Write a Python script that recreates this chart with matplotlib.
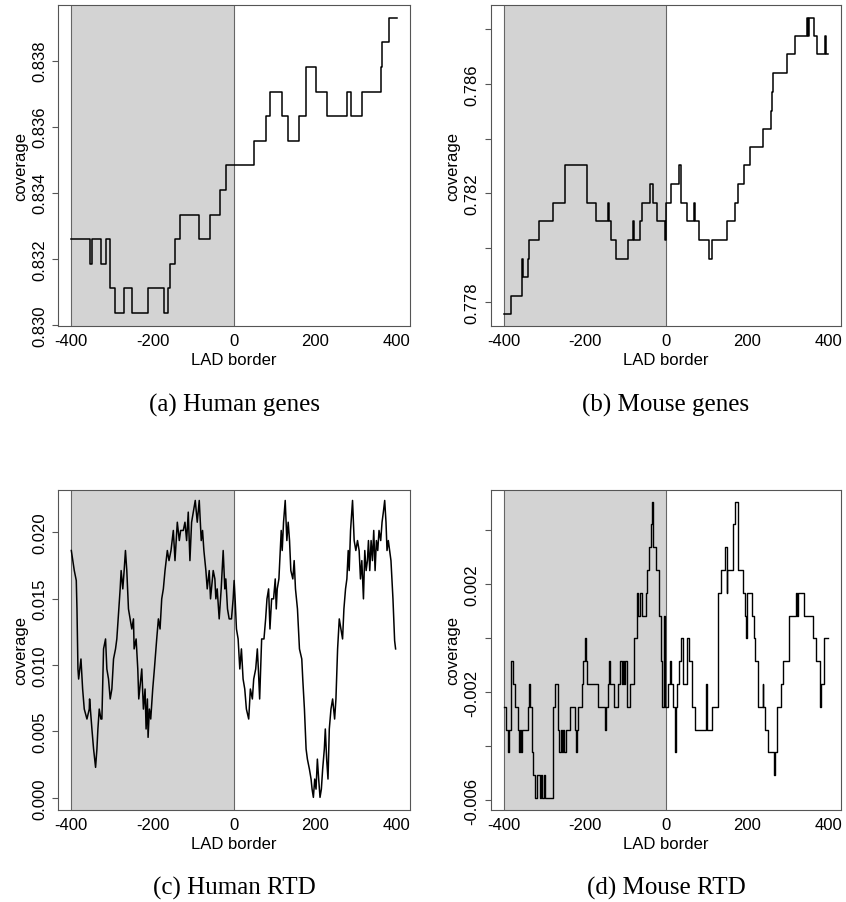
import matplotlib
matplotlib.use("Agg")
import matplotlib.pyplot as plt

plt.rcParams['font.family'] = ['Liberation Sans', 'DejaVu Sans']
plt.rcParams['axes.unicode_minus'] = False

# ---- data ----
x_ticks = [-400, -200, 0, 200, 400]
x_ticklabels = ['-400', '-200', '0', '200', '400']

# (a) Human genes: step function, x = start of each step
a_x = [-400, -355.1, -349.4, -327.3, -315.9, -306.1, -292.2, -270.2, -249.8, -210.6,
       -171.4, -163.3, -157.6, -145.3, -133.1, -85.7, -58.8, -35.1, -20.4, 48.2,
       79.2, 89.0, 117.6, 132.2, 159.2, 177.1, 200.0, 228.6, 278.4, 286.5,
       313.5, 360.8, 363.3, 379.6, 400]
a_y = [0.83260, 0.83185, 0.83260, 0.83185, 0.83260, 0.83111, 0.83036, 0.83111, 0.83036, 0.83111,
       0.83036, 0.83111, 0.83185, 0.83260, 0.83334, 0.83260, 0.83334, 0.83408, 0.83483, 0.83557,
       0.83631, 0.83706, 0.83631, 0.83557, 0.83631, 0.83780, 0.83706, 0.83631, 0.83706, 0.83631,
       0.83706, 0.83780, 0.83855, 0.83929, 0.83929]
a_yticks = [0.830, 0.832, 0.834, 0.836, 0.838]
a_yticklabels = ['0.830', '0.832', '0.834', '0.836', '0.838']
a_ylim = (0.82997, 0.83968)

# (b) Mouse genes
b_x = [-400, -382.8, -355.6, -353.2, -340.9, -336.8, -312.1, -277.6, -248.9, -193.8,
       -172.5, -142.1, -139.6, -135.5, -123.2, -94.4, -80.5, -78.0, -64.0, -59.9,
       -38.6, -32.8, -23.0, -3.3, -0.8, 11.5, 32.9, 36.2, 52.6, 69.0,
       71.5, 80.5, 106.0, 113.4, 149.5, 170.1, 178.3, 192.2, 207.0, 239.9,
       258.8, 262.1, 264.5, 299.0, 317.9, 346.7, 350.8, 353.2, 364.7, 371.3,
       391.8, 394.3, 400]
b_y = [0.77757, 0.77824, 0.77960, 0.77893, 0.77960, 0.78030, 0.78097, 0.78165, 0.78302, 0.78165,
       0.78097, 0.78165, 0.78097, 0.78030, 0.77960, 0.78030, 0.78097, 0.78030, 0.78097, 0.78165,
       0.78232, 0.78165, 0.78097, 0.78030, 0.78165, 0.78232, 0.78302, 0.78165, 0.78097, 0.78165,
       0.78097, 0.78030, 0.77960, 0.78030, 0.78097, 0.78165, 0.78232, 0.78302, 0.78369, 0.78434,
       0.78501, 0.78571, 0.78639, 0.78709, 0.78776, 0.78843, 0.78776, 0.78843, 0.78776, 0.78709,
       0.78776, 0.78709, 0.78709]
b_yticks = [0.778, 0.780, 0.782, 0.784, 0.786, 0.788]
b_yticklabels = ['0.778', '', '0.782', '', '0.786', '']
b_ylim = (0.77714, 0.78889)

# (c) Human RTD: polyline
c_x = [-400, -392.7, -387.8, -386.1, -383.7, -382.0, -376.3, -372.2, -368.2, -361.6,
       -355.9, -355.1, -349.4, -345.3, -340.4, -337.1, -334.7, -331.4, -327.3, -324.9,
       -320.8, -315.9, -312.7, -308.6, -304.5, -300.4, -296.3, -291.4, -288.2, -283.3,
       -280.0, -277.6, -273.5, -270.2, -267.0, -263.7, -259.6, -255.5, -251.4, -247.3,
       -245.7, -240.8, -236.7, -234.3, -226.9, -222.9, -218.8, -216.3, -213.1, -211.4,
       -208.2, -204.9, -200.0, -195.9, -190.2, -186.1, -182.0, -177.9, -173.9, -169.8,
       -164.1, -160.0, -155.1, -149.4, -145.3, -139.6, -134.7, -131.4, -124.9, -120.8,
       -116.7, -112.7, -108.6, -104.5, -100.4, -95.5, -90.6, -85.7, -80.8, -77.6,
       -74.3, -69.4, -66.1, -61.2, -58.0, -51.4, -47.3, -44.9, -41.6, -36.7,
       -31.8, -26.9, -22.9, -20.4, -16.3, -12.2, -6.5, -2.4, 0.0, 2.4,
       5.7, 9.8, 13.9, 17.9, 22.0, 26.1, 30.1, 35.8, 39.9, 44.8,
       48.1, 53.0, 57.0, 59.5, 62.7, 67.6, 73.3, 77.4, 80.7, 84.7,
       88.0, 92.1, 96.9, 101.0, 103.5, 105.9, 110.0, 113.2, 115.7, 118.1,
       121.4, 125.5, 129.5, 132.8, 136.1, 139.3, 144.2, 147.5, 150.7, 155.6,
       160.5, 166.2, 168.6, 172.7, 176.8, 180.0, 184.9, 189.0, 191.5, 194.7,
       198.0, 201.2, 204.5, 207.7, 211.0, 214.3, 217.5, 221.6, 224.0, 227.3,
       230.6, 233.8, 237.9, 242.0, 246.9, 250.1, 254.2, 258.3, 262.3, 266.4,
       269.7, 273.7, 277.0, 280.3, 282.7, 286.0, 290.9, 294.9, 299.0, 303.1,
       307.1, 310.4, 313.7, 317.7, 321.0, 324.3, 327.5, 330.0, 333.2, 336.5,
       339.8, 343.0, 346.3, 349.5, 352.8, 356.0, 360.1, 363.4, 366.6, 369.9,
       373.1, 375.6, 378.8, 382.1, 385.3, 390.2, 394.3, 396.7]
c_y = [0.01862, 0.01711, 0.01636, 0.01422, 0.00970, 0.00894, 0.01045, 0.00819, 0.00668, 0.00593,
       0.00668, 0.00744, 0.00518, 0.00367, 0.00229, 0.00367, 0.00518, 0.00668, 0.00593, 0.00593,
       0.01121, 0.01196, 0.00970, 0.00894, 0.00744, 0.00819, 0.01045, 0.01121, 0.01196, 0.01422,
       0.01573, 0.01711, 0.01573, 0.01711, 0.01862, 0.01711, 0.01422, 0.01347, 0.01271, 0.01347,
       0.01121, 0.01196, 0.00970, 0.00744, 0.00970, 0.00668, 0.00819, 0.00518, 0.00744, 0.00455,
       0.00668, 0.00593, 0.00819, 0.00970, 0.01196, 0.01347, 0.01271, 0.01498, 0.01573, 0.01711,
       0.01862, 0.01786, 0.01862, 0.02013, 0.01786, 0.02075, 0.01937, 0.02013, 0.02013, 0.02075,
       0.01937, 0.02151, 0.01786, 0.02075, 0.02151, 0.02239, 0.02075, 0.02239, 0.01937, 0.02013,
       0.01862, 0.01711, 0.01573, 0.01711, 0.01498, 0.01711, 0.01648, 0.01498, 0.01573, 0.01347,
       0.01573, 0.01862, 0.01573, 0.01648, 0.01422, 0.01347, 0.01347, 0.01498, 0.01636, 0.01498,
       0.01271, 0.01196, 0.00970, 0.01121, 0.00894, 0.00819, 0.00668, 0.00593, 0.00819, 0.00744,
       0.00894, 0.00970, 0.01121, 0.00970, 0.00744, 0.01196, 0.01196, 0.01347, 0.01498, 0.01573,
       0.01271, 0.01498, 0.01498, 0.01648, 0.01422, 0.01573, 0.01648, 0.01862, 0.02013, 0.01862,
       0.02075, 0.02239, 0.01937, 0.02075, 0.01937, 0.01711, 0.01648, 0.01786, 0.01573, 0.01422,
       0.01121, 0.01045, 0.00894, 0.00668, 0.00367, 0.00291, 0.00216, 0.00141, 0.00065, 0.00003,
       0.00141, 0.00065, 0.00291, 0.00141, 0.00003, 0.00065, 0.00216, 0.00367, 0.00518, 0.00291,
       0.00141, 0.00518, 0.00668, 0.00744, 0.00593, 0.00744, 0.01121, 0.01347, 0.01271, 0.01196,
       0.01422, 0.01573, 0.01648, 0.01862, 0.01711, 0.02013, 0.02239, 0.01937, 0.01862, 0.01937,
       0.01862, 0.01648, 0.01786, 0.01498, 0.01862, 0.01711, 0.01786, 0.01937, 0.01711, 0.01937,
       0.01786, 0.02013, 0.01711, 0.01937, 0.01862, 0.02013, 0.01937, 0.02075, 0.02151, 0.02239,
       0.02075, 0.01862, 0.01937, 0.01862, 0.01786, 0.01498, 0.01183, 0.01121]
c_yticks = [0.000, 0.005, 0.010, 0.015, 0.020]
c_yticklabels = ['0.000', '0.005', '0.010', '0.015', '0.020']
c_ylim = (-0.0009, 0.0232)

# (d) Mouse RTD: step function
d_x = [-400, -394.2, -388.5, -386.0, -381.9, -376.2, -371.3, -365.5, -363.0, -360.6,
       -358.1, -355.6, -340.9, -336.8, -335.1, -330.2, -326.9, -322.8, -318.7, -310.5,
       -308.0, -304.7, -300.6, -298.1, -279.3, -273.5, -266.9, -265.3, -262.8, -259.5,
       -257.1, -253.0, -250.5, -246.4, -236.5, -224.2, -221.8, -220.1, -216.0, -207.8,
       -203.7, -199.6, -197.1, -193.8, -166.7, -150.3, -147.8, -142.1, -139.6, -137.9,
       -128.1, -119.1, -113.3, -109.2, -106.7, -103.5, -101.0, -95.3, -88.7, -78.8,
       -72.3, -68.2, -64.0, -59.9, -49.3, -46.0, -41.1, -37.0, -34.5, -32.0,
       -25.4, -17.3, -13.1, -10.7, -4.9, -3.3, 4.1, 9.9, 11.5, 18.1,
       23.0, 24.7, 28.0, 31.2, 36.2, 41.1, 52.6, 56.7, 63.3, 71.5,
       98.6, 101.9, 113.4, 127.3, 135.6, 145.4, 149.5, 151.2, 165.9, 170.1,
       178.3, 188.9, 194.7, 196.3, 198.8, 211.1, 216.9, 220.2, 227.6, 238.2,
       239.9, 244.0, 250.5, 266.1, 268.6, 272.7, 274.4, 282.6, 289.1, 303.1,
       320.4, 322.0, 326.1, 340.9, 363.1, 369.7, 379.5, 381.1, 390.2, 400]
d_y = [-0.00253, -0.00338, -0.00422, -0.00338, -0.00084, -0.00169, -0.00253, -0.00338, -0.00422, -0.00338,
       -0.00422, -0.00338, -0.00253, -0.00169, -0.00253, -0.00422, -0.00506, -0.00591, -0.00506, -0.00591,
       -0.00506, -0.00591, -0.00506, -0.00591, -0.00253, -0.00169, -0.00253, -0.00338, -0.00422, -0.00338,
       -0.00422, -0.00338, -0.00422, -0.00338, -0.00253, -0.00338, -0.00422, -0.00338, -0.00253, -0.00169,
       -0.00084, 0.0, -0.00084, -0.00169, -0.00253, -0.00338, -0.00253, -0.00169, -0.00084, -0.00169,
       -0.00253, -0.00169, -0.00084, -0.00169, -0.00084, -0.00169, -0.00084, -0.00253, -0.00169, 0.0,
       0.00169, 0.00084, 0.00169, 0.00084, 0.00169, 0.00253, 0.00338, 0.00422, 0.00506, 0.00338,
       0.00253, 0.00084, -0.00084, -0.00253, 0.00084, -0.00253, -0.00169, -0.00084, -0.00169, -0.00253,
       -0.00422, -0.00253, -0.00169, -0.00084, 0.0, -0.00169, 0.0, -0.00084, -0.00253, -0.00338,
       -0.00169, -0.00338, -0.00253, 0.00169, 0.00253, 0.00338, 0.00169, 0.00253, 0.00422, 0.00506,
       0.00253, 0.00169, 0.00084, 0.0, 0.00169, 0.00084, 0.0, -0.00084, -0.00253, -0.00169,
       -0.00253, -0.00338, -0.00422, -0.00506, -0.00422, -0.00338, -0.00253, -0.00169, -0.00084, 0.00084,
       0.00169, 0.00084, 0.00169, 0.00084, 0.0, -0.00084, -0.00253, -0.00169, 0.0, 0.0]
d_yticks = [-0.006, -0.004, -0.002, 0.000, 0.002, 0.004]
d_yticklabels = ['-0.006', '', '-0.002', '', '0.002', '']
d_ylim = (-0.00635, 0.0055)

captions = ['(a) Human genes', '(b) Mouse genes', '(c) Human RTD', '(d) Mouse RTD']

FRAME = '#555555'


def setup(ax, yticks, yticklabels, ylim):
    ax.axvspan(-400, 0, facecolor='#d3d3d3', edgecolor='none', zorder=0)
    ax.axvline(-400, color='#666666', lw=0.8, zorder=1)
    ax.axvline(0, color='#666666', lw=0.8, zorder=1)
    ax.set_xlim(-432, 432)
    ax.set_ylim(*ylim)
    ax.set_xticks(x_ticks)
    ax.set_xticklabels(x_ticklabels)
    ax.set_yticks(yticks)
    ax.set_yticklabels(yticklabels, rotation=90, va='center')
    ax.tick_params(axis='x', length=0, pad=5, labelsize=12)
    ax.tick_params(axis='y', length=4, width=0.8, pad=4, color=FRAME, labelsize=12)
    for s in ax.spines.values():
        s.set_color(FRAME)
        s.set_linewidth(0.8)
    ax.text(0.5, -0.105, 'LAD border', transform=ax.transAxes,
            ha='center', va='center', fontsize=12)
    ax.text(-0.108, 0.5, 'coverage', transform=ax.transAxes, rotation=90,
            ha='center', va='center', fontsize=12)


fig = plt.figure(figsize=(8.46, 9.03), dpi=100)

lefts = [0.0689, 0.580]
widths = [0.4157, 0.4144]
bottoms = [0.6379, 0.1022]
heights = [0.3555, 0.3544]

ax_a = fig.add_axes([lefts[0], bottoms[0], widths[0], heights[0]])
ax_b = fig.add_axes([lefts[1], bottoms[0], widths[1], heights[0]])
ax_c = fig.add_axes([lefts[0], bottoms[1], widths[0], heights[1]])
ax_d = fig.add_axes([lefts[1], bottoms[1], widths[1], heights[1]])

setup(ax_a, a_yticks, a_yticklabels, a_ylim)
setup(ax_b, b_yticks, b_yticklabels, b_ylim)
setup(ax_c, c_yticks, c_yticklabels, c_ylim)
setup(ax_d, d_yticks, d_yticklabels, d_ylim)

ax_a.step(a_x, a_y, where='post', color='black', lw=1.1, zorder=2)
ax_b.step(b_x, b_y, where='post', color='black', lw=1.1, zorder=2)
ax_c.plot(c_x, c_y, color='black', lw=1.1, zorder=2)
ax_d.step(d_x, d_y, where='post', color='black', lw=1.0, zorder=2)

# sub-captions
cap_y = [1 - 405 / 903, 1 - 888 / 903]
for i, ax in enumerate([ax_a, ax_b, ax_c, ax_d]):
    pos = ax.get_position()
    fig.text(pos.x0 + pos.width / 2, cap_y[i // 2], captions[i],
             ha='center', va='center', fontsize=18,
             family=['Liberation Serif', 'DejaVu Serif'])

fig.savefig('out.png', dpi=100)
